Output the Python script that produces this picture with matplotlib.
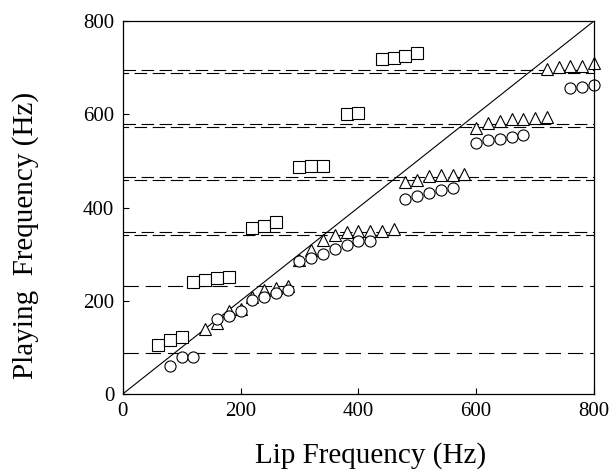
import matplotlib
matplotlib.use("Agg")
import matplotlib.pyplot as plt

plt.rcParams['font.family'] = ['Liberation Serif', 'DejaVu Serif']
plt.rcParams['lines.scale_dashes'] = False

# Data
sq_x = [60, 80, 100, 120, 140, 160, 180, 220, 240, 260, 300, 320, 340, 380, 400, 440, 460, 480, 500]
sq_y = [106, 115, 122, 240, 244, 249, 251, 357, 361, 369, 486, 488, 488, 601, 602, 719, 721, 725, 731]

tri_x = [140, 160, 180, 200, 220, 240, 260, 280,
         300, 320, 340, 360, 380, 400, 420, 440, 460,
         480, 500, 520, 540, 560, 580,
         600, 620, 640, 660, 680, 700, 720,
         720, 740, 760, 780, 800]
tri_y = [140, 153, 178, 183, 207, 222, 228, 231,
         288, 308, 330, 341, 348, 350, 350, 350, 353,
         455, 460, 467, 470, 470, 472,
         571, 581, 586, 589, 590, 593, 595,
         697, 701, 704, 704, 710]

cir_x = [80, 100, 120, 160, 180, 200, 220, 240, 260, 280,
         300, 320, 340, 360, 380, 400, 420,
         480, 500, 520, 540, 560,
         600, 620, 640, 660, 680,
         760, 780, 800]
cir_y = [59, 79, 79, 161, 168, 179, 201, 208, 217, 222,
         285, 291, 300, 310, 319, 328, 329,
         419, 425, 432, 437, 441,
         538, 545, 547, 552, 555,
         656, 658, 663]

pair_upper = [695, 579, 466, 347]
pair_lower = [688, 573, 459, 341]
single_lines = [232, 87]

ticks = [0, 200, 400, 600, 800]

fig = plt.figure(figsize=(6.16, 4.70), dpi=100)
ax = fig.add_axes([0.1992, 0.1617, 0.7651, 0.7936])

for v in pair_upper:
    ax.axhline(v, color='black', lw=0.8, linestyle=(0, (9, 4)))
for v in pair_lower:
    ax.axhline(v, color='black', lw=0.8, linestyle=(5, (9, 4)))
for v in single_lines:
    ax.axhline(v, color='black', lw=0.8, linestyle=(0, (11, 5)))

ax.plot([0, 800], [0, 800], color='black', lw=0.8)

mk = dict(linestyle='none', markerfacecolor='white', markeredgecolor='black',
          markeredgewidth=0.8, clip_on=False)
ax.plot(sq_x, sq_y, marker='s', markersize=8, **mk)
ax.plot(tri_x, tri_y, marker='^', markersize=8.5, **mk)
ax.plot(cir_x, cir_y, marker='o', markersize=8, **mk)

ax.set_xlim(0, 800)
ax.set_ylim(0, 800)
ax.set_xticks(ticks)
ax.set_yticks(ticks)
ax.tick_params(direction='in', length=4, width=0.8, labelsize=15, pad=6)
for s in ax.spines.values():
    s.set_linewidth(0.9)

ax.set_xlabel('Lip Frequency (Hz)', fontsize=21, va='center')
ax.set_ylabel('Playing  Frequency (Hz)', fontsize=21, va='center')
ax.xaxis.set_label_coords(0.525, -0.164)
ax.yaxis.set_label_coords(-0.207, 0.426)

fig.savefig('out.png', dpi=100)
